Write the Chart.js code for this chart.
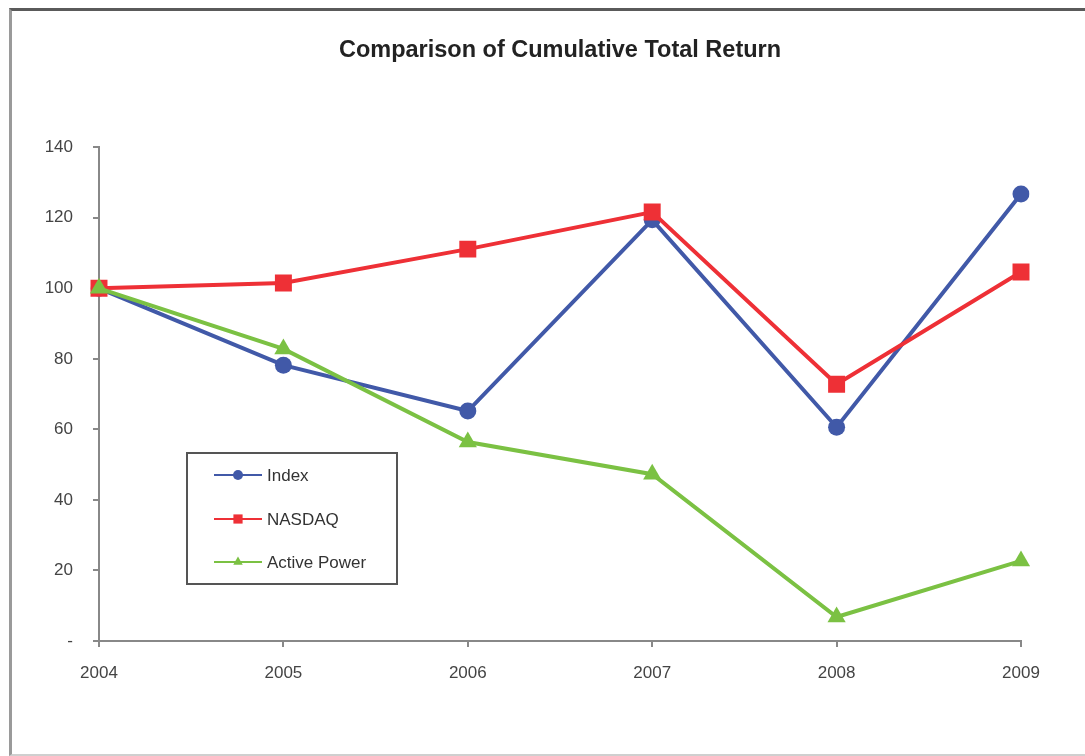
<!DOCTYPE html>
<html>
<head>
<meta charset="utf-8">
<script src="https://cdn.jsdelivr.net/npm/chart.js@4.4.1/dist/chart.umd.min.js"></script>
<style>
  html, body { margin: 0; padding: 0; background: #fff; }
  #wrap { position: absolute; left: 0; top: 0; width: 1085px; height: 756px; background: #fff; overflow: hidden; }
  #frame { position: absolute; left: 9px; top: 8px; width: 1100px; height: 743px;
           border-top: 3px solid #5a5a5a; border-left: 3px solid #9a9a9a; border-bottom: 2px solid #cfcfcf; }
  canvas { position: absolute; left: 0; top: 0; }
</style>
</head>
<body>
<div id="wrap">
  <div id="frame"></div>
  <canvas id="c" width="1085" height="756"></canvas>
</div>
<script>
const title = "Comparison of Cumulative Total Return";
const years = ["2004", "2005", "2006", "2007", "2008", "2009"];
const seriesNames = ["Index", "NASDAQ", "Active Power"];
const indexValues = [100, 78.2, 65.2, 119.4, 60.6, 126.7];
const nasdaqValues = [100, 101.5, 111.1, 121.6, 72.8, 104.6];
const activePowerValues = [100, 82.8, 56.4, 47.3, 6.8, 22.7];
const yTicks = [0, 20, 40, 60, 80, 100, 120, 140];

const FONT = '"Liberation Sans", Arial, sans-serif';
const BLUE = '#4159a8', RED = '#ee3036', GREEN = '#7bc143';

const legendPlugin = {
  id: 'boxLegend',
  afterDatasetsDraw(chart) {
    const ctx = chart.ctx;
    const box = { x: 187, y: 453, w: 210, h: 131 };
    const rows = [475, 519, 562];
    ctx.save();
    ctx.fillStyle = '#fff';
    ctx.fillRect(box.x, box.y, box.w, box.h);
    ctx.strokeStyle = '#555';
    ctx.lineWidth = 2;
    ctx.strokeRect(box.x, box.y, box.w, box.h);
    chart.data.datasets.forEach((ds, i) => {
      const y = rows[i];
      ctx.strokeStyle = ds.borderColor;
      ctx.lineWidth = 2;
      ctx.beginPath();
      ctx.moveTo(214, y);
      ctx.lineTo(262, y);
      ctx.stroke();
      ctx.fillStyle = ds.backgroundColor;
      Chart.helpers.drawPoint(ctx, {
        pointStyle: ds.pointStyle,
        radius: ds.legendRadius,
        rotation: 0,
        borderWidth: 0
      }, 238, y);
      ctx.fillStyle = '#333';
      ctx.font = '17px ' + FONT;
      ctx.textBaseline = 'middle';
      ctx.textAlign = 'left';
      ctx.fillText(ds.label, 267, y + 1);
    });
    ctx.restore();
  }
};

new Chart(document.getElementById('c'), {
  type: 'line',
  data: {
    labels: years,
    datasets: [
      { label: seriesNames[0], data: indexValues, borderColor: BLUE, backgroundColor: BLUE,
        borderWidth: 4, pointStyle: 'circle', pointRadius: 8.5, pointBorderWidth: 0,
        legendRadius: 5, order: 3, tension: 0 },
      { label: seriesNames[1], data: nasdaqValues, borderColor: RED, backgroundColor: RED,
        borderWidth: 4, pointStyle: 'rect', pointRadius: 12, pointBorderWidth: 0,
        legendRadius: 6.5, order: 2, tension: 0 },
      { label: seriesNames[2], data: activePowerValues, borderColor: GREEN, backgroundColor: GREEN,
        borderWidth: 4, pointStyle: 'triangle', pointRadius: 10.5, pointBorderWidth: 0,
        legendRadius: 5.5, order: 1, tension: 0 }
    ]
  },
  options: {
    responsive: false,
    animation: false,
    layout: { padding: { left: 0, right: 64, top: 0, bottom: 0 } },
    plugins: {
      legend: { display: false },
      tooltip: { enabled: false },
      title: {
        display: true, text: title, color: '#222', fullSize: false,
        font: { family: FONT, size: 23.5, weight: 'bold', lineHeight: 1.2 },
        padding: { top: 36, bottom: 83 }
      }
    },
    scales: {
      x: {
        type: 'category',
        offset: false,
        afterFit(scale) { scale.height = 115; },
        grid: { display: true, drawOnChartArea: false, drawTicks: true, tickLength: 6, color: '#888', lineWidth: 2 },
        border: { display: true, color: '#888', width: 2 },
        ticks: { color: '#444', font: { family: FONT, size: 17 }, padding: 16, maxRotation: 0, autoSkip: false }
      },
      y: {
        min: 0, max: 140,
        afterFit(scale) { scale.width = 99; },
        afterBuildTicks(scale) { scale.ticks = yTicks.map(v => ({ value: v })); },
        grid: { display: true, drawOnChartArea: false, drawTicks: true, tickLength: 6, color: '#888', lineWidth: 2 },
        border: { display: true, color: '#888', width: 2 },
        ticks: { color: '#444', font: { family: FONT, size: 17 }, padding: 20,
                 callback: v => v === 0 ? '-' : String(v) }
      }
    }
  },
  plugins: [legendPlugin]
});
</script>
</body>
</html>
